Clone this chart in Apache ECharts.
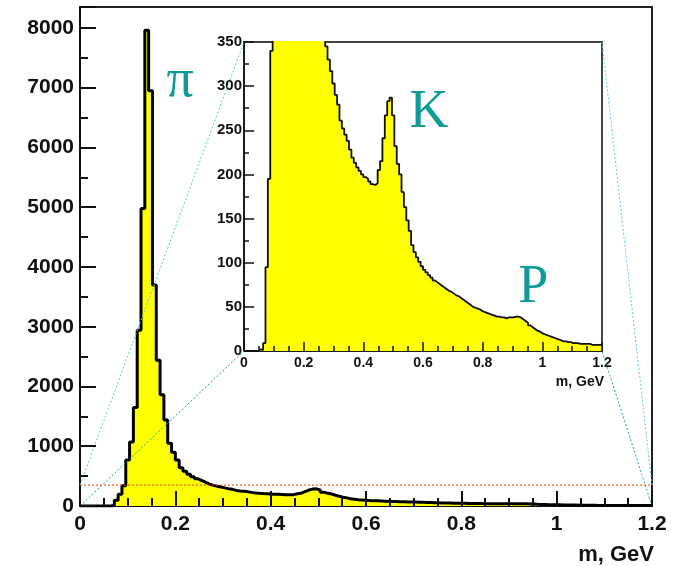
<!DOCTYPE html>
<html><head><meta charset="utf-8">
<script src="https://cdn.jsdelivr.net/npm/echarts@6/dist/echarts.min.js"></script>
<style>html,body{margin:0;padding:0;background:#fff}#c,#tmp{width:681px;height:566px}#tmp{position:absolute;left:-2000px;top:0}</style>
</head><body><div id="c"></div><div id="tmp"></div>
<script>
// ---- data ----
const binWidth = 0.008;          // 150 bins over 0..1.2 GeV
const counts = [
  0,0,0,0,0,0,2,1,9,95,
  195,340,770,1070,1650,2940,4980,7960,6950,3700,
  2440,1860,1440,1050,900,770,640,580,530,490,
  455,425,395,365,345,330,317,303,290,279,
  261,252,245,238,228,219,213,208,204,200,
  197,195,192,189,188,190,205,215,241,267,
  283,287,267,232,212,200,180,163,148,136,
  120,112,106,101,96,92,89,86,83,80,
  78,76,74,72,70,68,67,65,63,62,
  60,58,56,54,52,50,49,48,47,45,
  44,43,42,41,40,39,39,38,38,37,
  38,38,38,39,39,38,36,34,32,29,
  27,25,23,22,20,19,18,17,16,15,
  14,13,12,11,11,10,10,9,9,9,
  8,8,8,8,8,7,7,7,7,7
];
const mainXTicks = [0, 0.2, 0.4, 0.6, 0.8, 1, 1.2];
const mainYTicks = [0,1000,2000,3000,4000,5000,6000,7000,8000];
const mainYMax = 8350;
const insetXTicks = [0, 0.2, 0.4, 0.6, 0.8, 1, 1.2];
const insetYTicks = [0,50,100,150,200,250,300,350];
const zoomBox = {x0: 0, x1: 1.2, y0: 0, y1: 350};
const particleLabels = ['π', 'K', 'P'];
const axisTitle = 'm, GeV';

// ---- build step points ----
const pts = counts.map((v, i) => [i * binWidth, v]);
pts.push([counts.length * binWidth, counts[counts.length - 1]]);

const FONT = '"Liberation Sans", Arial, Helvetica, sans-serif';
const SERIF = '"Liberation Serif", "DejaVu Serif", "Times New Roman", serif';
const TEAL = '#0f9b98';

const G = [
  {left: 80, top: 7, width: 572, height: 499},
  {left: 244, top: 42, width: 358, height: 309}
];

function xAx(grid, ticks, fs, lw, margin, nameFs, namePad) {
  return {
    type: 'value', gridIndex: grid, position: 'bottom', min: ticks[0], max: ticks[ticks.length - 1],
    interval: ticks[1] - ticks[0],
    axisLine: {show: true, onZero: false, lineStyle: {color: '#111', width: lw}},
    axisTick: {show: false},
    splitLine: {show: false},
    axisLabel: {color: '#111', fontFamily: FONT, fontWeight: 'bold', fontSize: fs, margin: margin,
      formatter: v => String(+v.toFixed(3))},
    name: axisTitle, nameLocation: 'end', nameGap: 2,
    nameTextStyle: {color: '#111', fontFamily: FONT, fontWeight: 'bold', fontSize: nameFs,
      align: 'right', verticalAlign: 'top', padding: [namePad, 0, 0, 0]}
  };
}
function yAx(grid, ticks, max, fs, lw, margin) {
  return {
    type: 'value', gridIndex: grid, position: 'left', min: ticks[0], max: max,
    interval: ticks[1] - ticks[0],
    axisLine: {show: true, onZero: false, lineStyle: {color: '#111', width: lw}},
    axisTick: {show: false},
    splitLine: {show: false},
    axisLabel: {color: '#111', fontFamily: FONT, fontWeight: 'bold', fontSize: fs, margin: margin,
      showMaxLabel: max === ticks[ticks.length - 1], formatter: v => String(v)}
  };
}
// tick-only overlay axes: placed on the far side and shifted back onto the frame's
// bottom / left edge, with outward ticks that therefore point into the plot
function tickAx(grid, pos, shift, min, max, interval, len, minorLen, minorSplit, lw) {
  return {
    type: 'value', gridIndex: grid, position: pos, offset: -shift, z: 20,
    min: min, max: max, interval: interval,
    axisLine: {show: false, onZero: false},
    axisLabel: {show: false},
    splitLine: {show: false},
    axisTick: {show: true, inside: false, length: len, lineStyle: {color: '#111', width: lw}},
    minorTick: {show: true, splitNumber: minorSplit, length: minorLen, lineStyle: {color: '#111', width: lw}}
  };
}

const option = {
  animation: false,
  grid: [
    Object.assign({show: true, borderColor: '#222', borderWidth: 2, backgroundColor: 'transparent'}, G[0]),
    Object.assign({show: true, borderColor: '#444', borderWidth: 2, backgroundColor: 'transparent'}, G[1])
  ],
  xAxis: [
    xAx(0, mainXTicks, 21, 2, 8, 22, 38),
    xAx(1, insetXTicks, 14, 1.5, 5, 14, 24),
    tickAx(0, 'top', G[0].height, mainXTicks[0], mainXTicks[mainXTicks.length - 1], mainXTicks[1] - mainXTicks[0], 15, 8, 4, 2),
    tickAx(1, 'top', G[1].height, insetXTicks[0], insetXTicks[insetXTicks.length - 1], insetXTicks[1] - insetXTicks[0], 9, 5, 4, 1.5)
  ],
  yAxis: [
    yAx(0, mainYTicks, mainYMax, 21, 2, 6),
    yAx(1, insetYTicks, insetYTicks[insetYTicks.length - 1], 15, 1.5, 2),
    tickAx(0, 'right', G[0].width, mainYTicks[0], mainYMax, mainYTicks[1] - mainYTicks[0], 16, 8, 2, 2),
    tickAx(1, 'right', G[1].width, insetYTicks[0], insetYTicks[insetYTicks.length - 1], insetYTicks[1] - insetYTicks[0], 10, 5, 2, 1.5)
  ],
  series: [
    {type: 'line', xAxisIndex: 0, yAxisIndex: 0, data: pts, step: 'end', symbol: 'none',
     lineStyle: {color: '#000', width: 3}, areaStyle: {color: '#ffff00', opacity: 1}, z: 2},
    {type: 'line', xAxisIndex: 0, yAxisIndex: 0,
     data: [[zoomBox.x0, zoomBox.y1], [zoomBox.x1, zoomBox.y1]], symbol: 'none',
     lineStyle: {color: '#ff3300', width: 1, type: [2, 2]}, z: 3},
    {type: 'line', xAxisIndex: 1, yAxisIndex: 1, data: pts, step: 'end', symbol: 'none',
     lineStyle: {color: '#111', width: 1.8}, areaStyle: {color: '#ffff00', opacity: 1}, z: 4},
    // empty anchors so the tick-only axes belong to a series
    {type: 'line', xAxisIndex: 2, yAxisIndex: 2, data: [], symbol: 'none', silent: true},
    {type: 'line', xAxisIndex: 3, yAxisIndex: 3, data: [], symbol: 'none', silent: true}
  ]
};

// measure pixel positions on a throwaway instance, then render once
const probe = echarts.init(document.getElementById('tmp'));
probe.setOption(option);
const corners = [
  [[zoomBox.x0, zoomBox.y1], '#55d0d0'],
  [[zoomBox.x0, zoomBox.y0], '#17a5a5'],
  [[zoomBox.x1, zoomBox.y1], '#55d0d0'],
  [[zoomBox.x1, zoomBox.y0], '#17a5a5']
];
const graphics = corners.map(([c, col]) => {
  const a = probe.convertToPixel({xAxisIndex: 0, yAxisIndex: 0}, c);
  const b = probe.convertToPixel({xAxisIndex: 1, yAxisIndex: 1}, c);
  return {type: 'line', z: 6, silent: true,
    shape: {x1: a[0], y1: a[1], x2: b[0], y2: b[1]},
    style: {stroke: col, lineWidth: 1, lineDash: [2, 2]}};
});
const labelPos = [
  {grid: 0, at: [0.21, 7100], size: 54},
  {grid: 1, at: [0.62, 270], size: 54},
  {grid: 1, at: [0.97, 72], size: 54}
];
labelPos.forEach((p, i) => {
  const px = probe.convertToPixel({xAxisIndex: p.grid, yAxisIndex: p.grid}, p.at);
  graphics.push({type: 'text', z: 12, silent: true, x: px[0], y: px[1],
    style: {text: particleLabels[i], fill: TEAL, font: p.size + 'px ' + SERIF,
      align: 'center', verticalAlign: 'middle'}});
});
probe.dispose();
option.graphic = graphics;
const chart = echarts.init(document.getElementById('c'));
chart.setOption(option);
</script>
</body></html>
